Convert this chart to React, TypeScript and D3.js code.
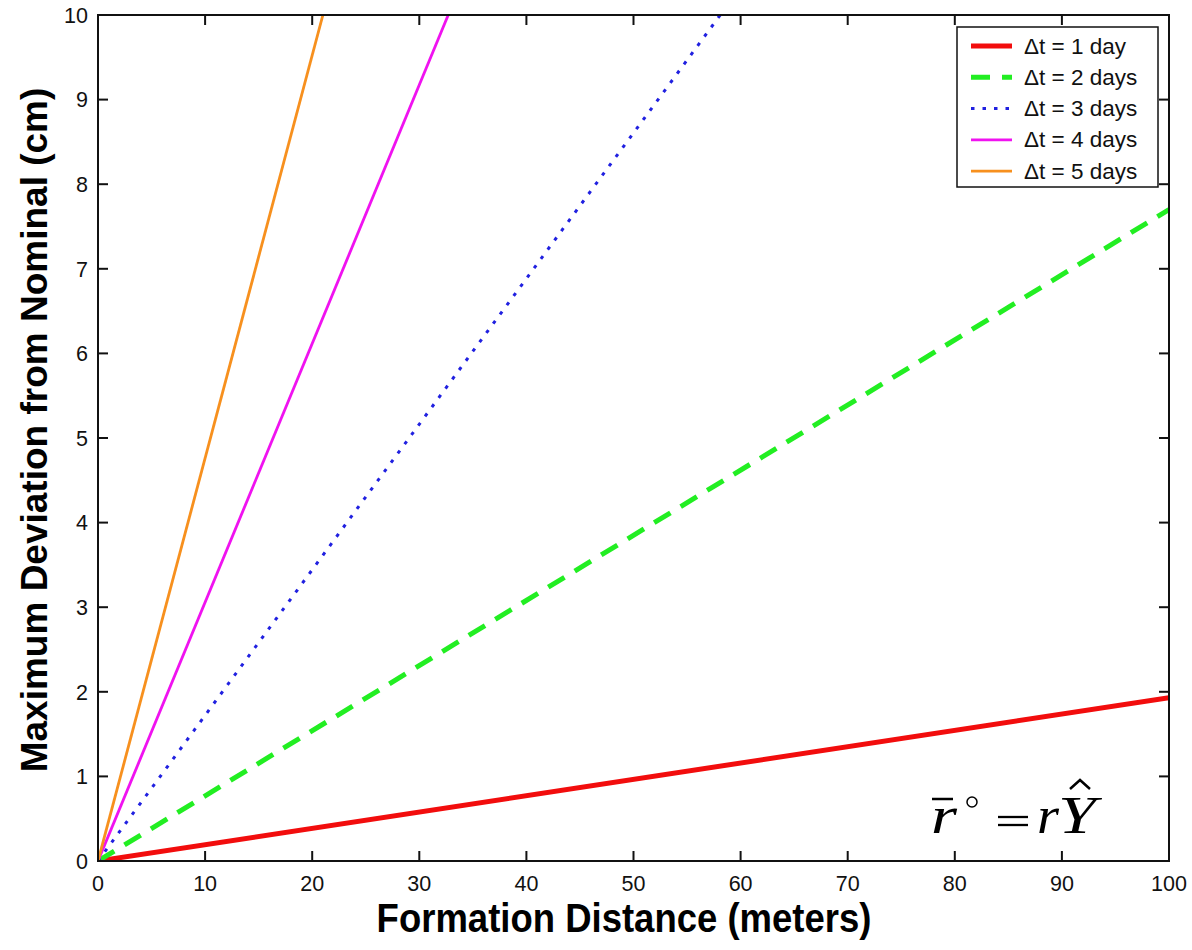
import React from "react";
import * as d3 from "d3";

const xTicks = [0, 10, 20, 30, 40, 50, 60, 70, 80, 90, 100];
const yTicks = [0, 1, 2, 3, 4, 5, 6, 7, 8, 9, 10];

const seriesNames = ["Δt = 1 day", "Δt = 2 days", "Δt = 3 days", "Δt = 4 days", "Δt = 5 days"];
const s1: [number, number][] = [[0, 0], [100, 1.93]];
const s2: [number, number][] = [[0, 0], [100, 7.7]];
const s3: [number, number][] = [[0, 0], [58.1, 10]];
const s4: [number, number][] = [[0, 0], [32.7, 10]];
const s5: [number, number][] = [[0, 0], [21.0, 10]];
const seriesData = [s1, s2, s3, s4, s5];

const styles = [
  { color: "#f20d0d", width: 5, dash: "" },
  { color: "#22ee22", width: 5, dash: "19,12" },
  { color: "#2020e0", width: 3, dash: "3.5,8" },
  { color: "#f012f0", width: 2.8, dash: "" },
  { color: "#f7901e", width: 2.8, dash: "" },
];

export default function App() {
  const W = 1192, H = 950;
  const L = 98, R = 1169, T = 15, B = 861;
  const x = d3.scaleLinear().domain([0, 100]).range([L, R]);
  const y = d3.scaleLinear().domain([0, 10]).range([B, T]);
  const line = d3.line<[number, number]>().x(d => x(d[0])).y(d => y(d[1]));
  const font = "Liberation Sans, Arial, Helvetica, sans-serif";
  const serif = "'Liberation Serif', 'Times New Roman', Times, serif";
  const tk = 10;
  return (
    <svg width={W} height={H} style={{ position: "absolute", left: 0, top: 0, background: "#fff" }}>
      <defs>
        <clipPath id="plot"><rect x={L} y={T} width={R - L} height={B - T} /></clipPath>
      </defs>
      <rect x={0} y={0} width={W} height={H} fill="#fff" />
      <g clipPath="url(#plot)">
        {seriesData.map((d, i) => (
          <path key={i} d={line(d) || ""} fill="none" stroke={styles[i].color}
            strokeWidth={styles[i].width} strokeDasharray={styles[i].dash} />
        ))}
      </g>
      <rect x={L} y={T} width={R - L} height={B - T} fill="none" stroke="#111" strokeWidth={2} />
      {xTicks.map(t => (
        <g key={"x" + t}>
          <line x1={x(t)} x2={x(t)} y1={B} y2={B - tk} stroke="#111" strokeWidth={2} />
          <line x1={x(t)} x2={x(t)} y1={T} y2={T + tk} stroke="#111" strokeWidth={2} />
          <text x={x(t)} y={891} textAnchor="middle" fontFamily={font} fontSize={21.5} fill="#111">{t}</text>
        </g>
      ))}
      {yTicks.map(t => (
        <g key={"y" + t}>
          <line x1={L} x2={L + tk} y1={y(t)} y2={y(t)} stroke="#111" strokeWidth={2} />
          <line x1={R} x2={R - tk} y1={y(t)} y2={y(t)} stroke="#111" strokeWidth={2} />
          <text x={88} y={y(t) + 7.7} textAnchor="end" fontFamily={font} fontSize={21.5} fill="#111">{t}</text>
        </g>
      ))}
      <text transform="translate(624,932) scale(1,1.1)" textAnchor="middle" fontFamily={font} fontSize={36.5} fontWeight="bold" fill="#000">Formation Distance (meters)</text>
      <text transform="translate(47,430) rotate(-90)" textAnchor="middle" fontFamily={font} fontSize={37} fontWeight="bold" fill="#000">Maximum Deviation from Nominal (cm)</text>
      <g>
        <rect x={957} y={27} width={201} height={160} fill="#fff" stroke="#111" strokeWidth={1.5} />
        {seriesNames.map((n, i) => {
          const yy = 46 + i * 31.3;
          return (
            <g key={n}>
              <line x1={971} x2={1012} y1={yy} y2={yy} stroke={styles[i].color}
                strokeWidth={styles[i].width} strokeDasharray={styles[i].dash} />
              <text x={1024} y={yy + 7.5} fontFamily={font} fontSize={22.5} fill="#111">{n}</text>
            </g>
          );
        })}
      </g>
      <g fontFamily={serif} fontStyle="italic" fontSize={52} fill="#000">
        <text x={931} y={833} textLength={26} lengthAdjust="spacingAndGlyphs">r</text>
        <line x1={932} x2={953} y1={799} y2={799} stroke="#000" strokeWidth={2.5} />
        <circle cx={972} cy={802} r={5} fill="none" stroke="#000" strokeWidth={1.5} />
        <line x1={998} x2={1028} y1={817} y2={817} stroke="#000" strokeWidth={2.3} />
        <line x1={998} x2={1028} y1={825} y2={825} stroke="#000" strokeWidth={2.3} />
        <text x={1037} y={833} textLength={22} lengthAdjust="spacingAndGlyphs">r</text>
        <text x={1058} y={833} textLength={38} lengthAdjust="spacingAndGlyphs">Y</text>
        <path d="M1070,789 L1080,780 L1090,789" fill="none" stroke="#000" strokeWidth={2.5} />
      </g>
    </svg>
  );
}
